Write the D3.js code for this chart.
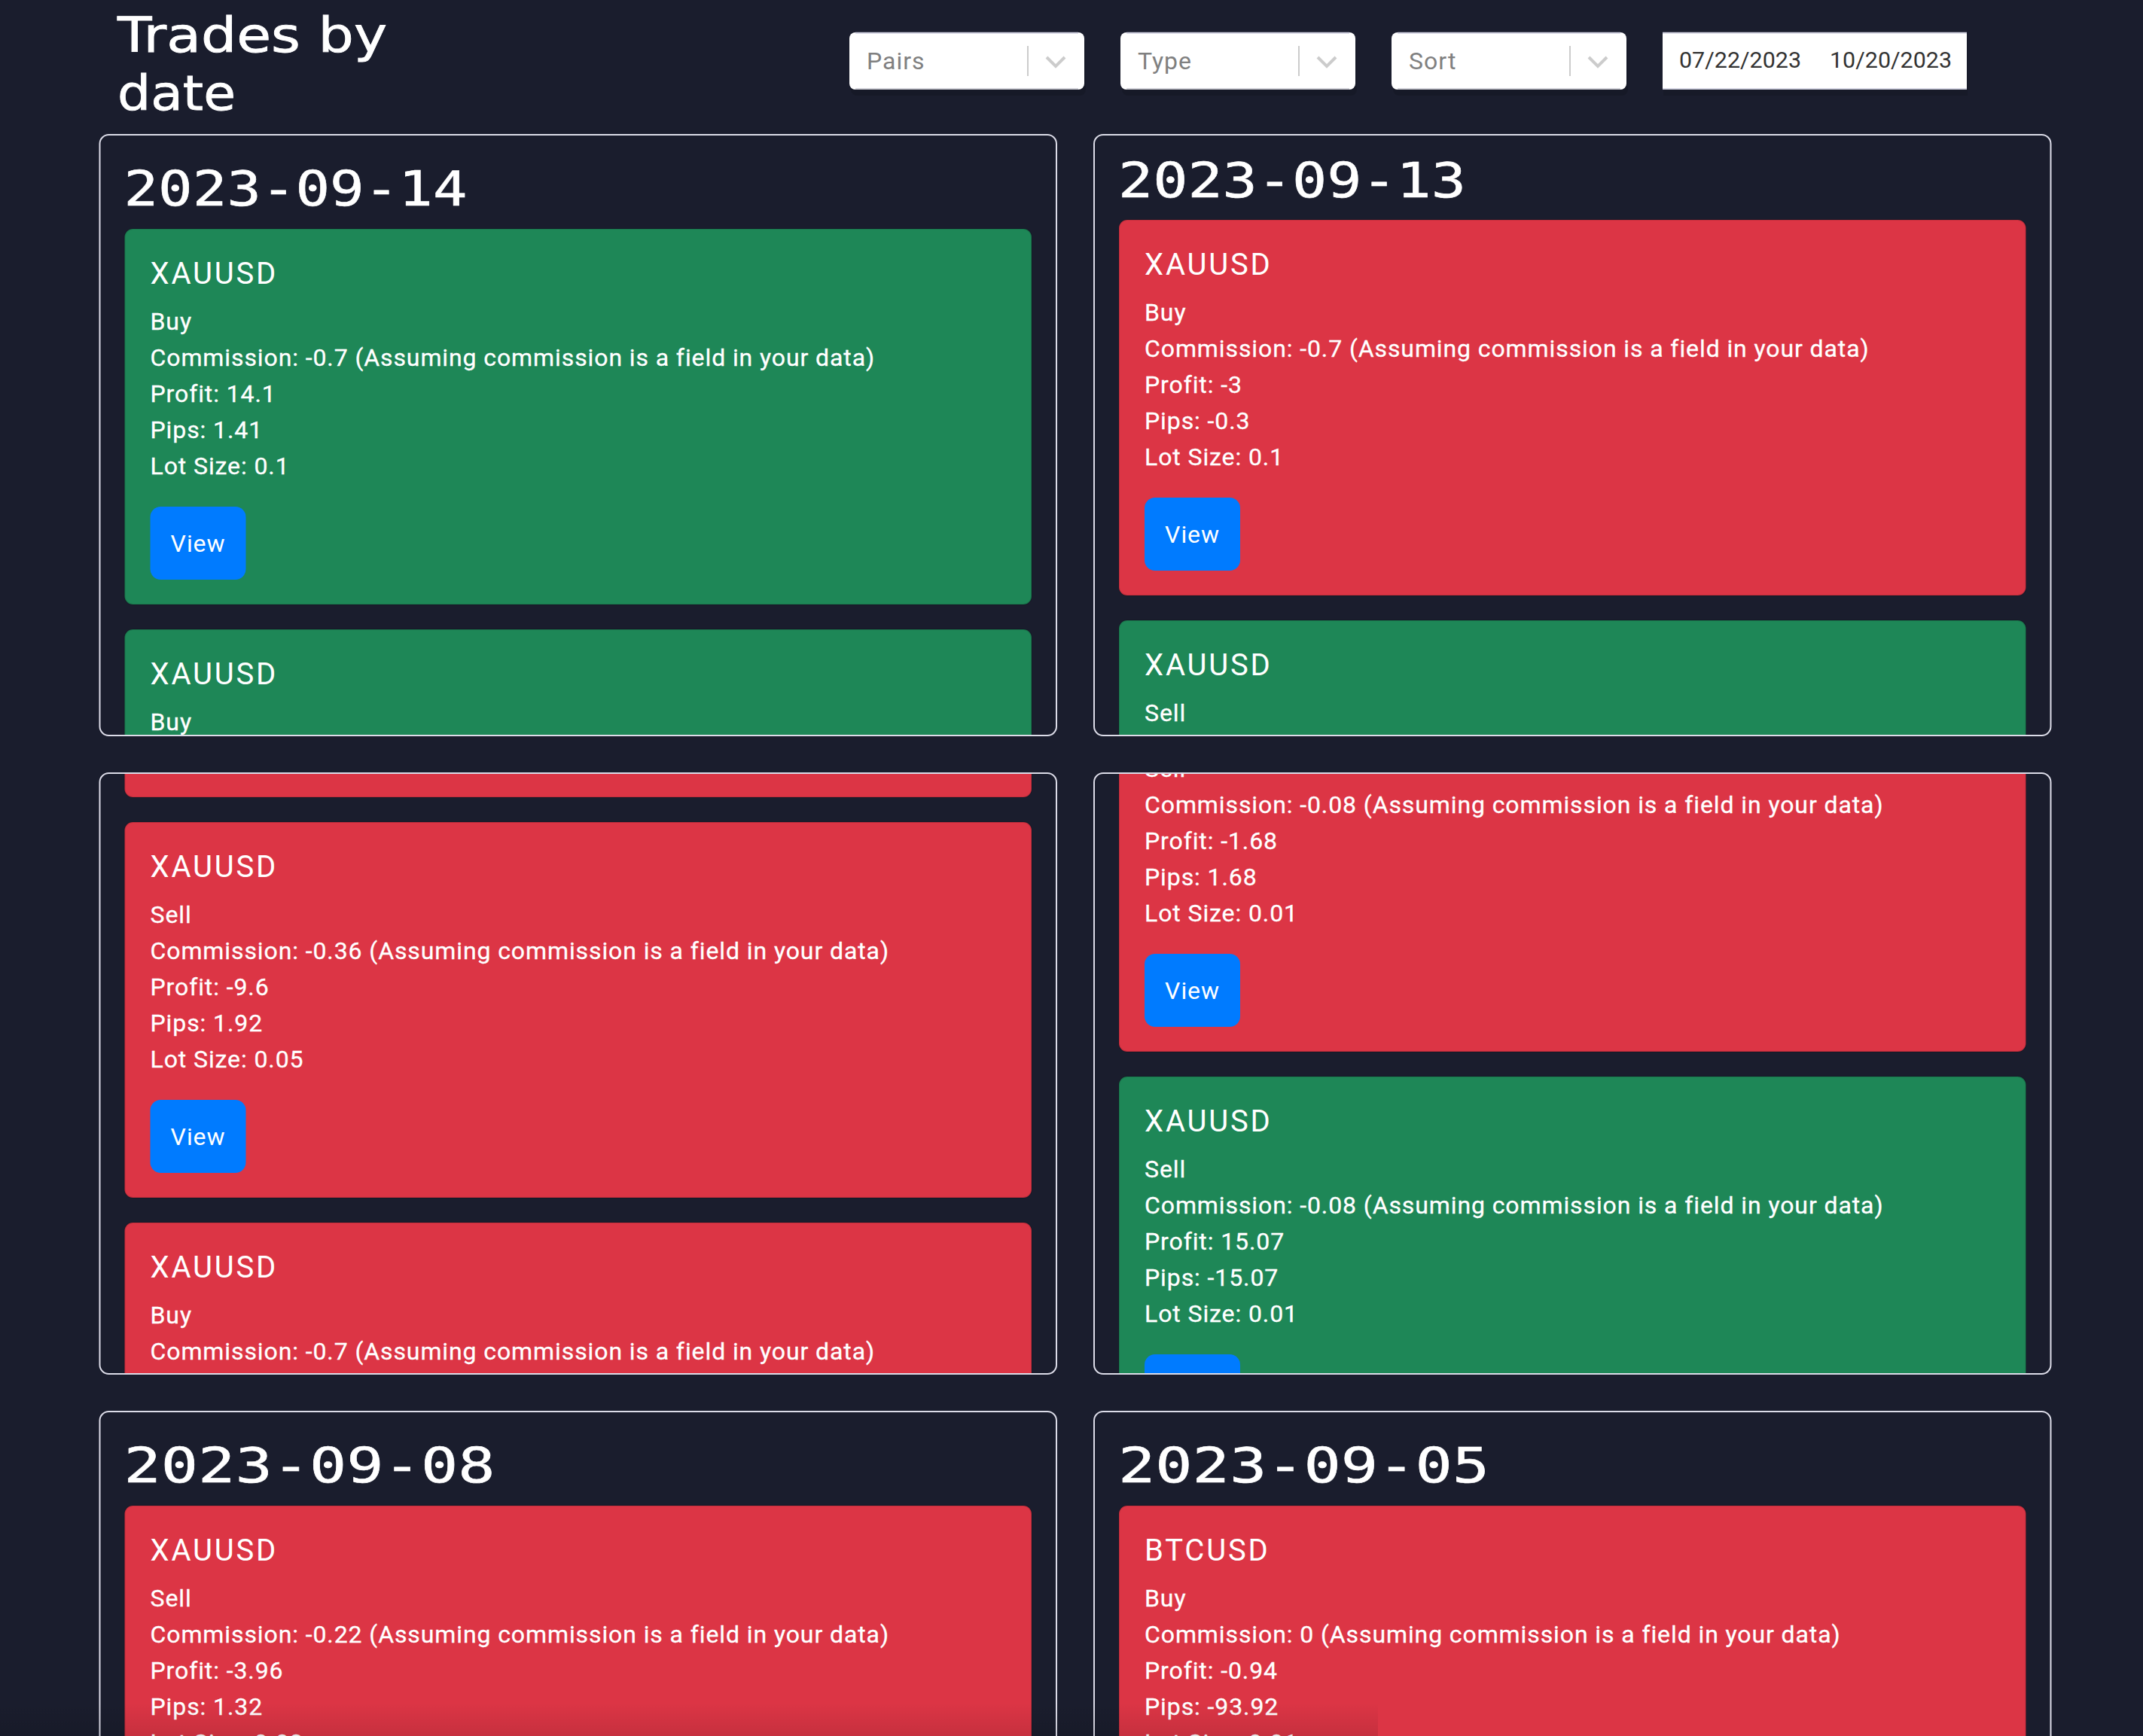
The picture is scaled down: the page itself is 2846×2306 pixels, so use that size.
<!DOCTYPE html>
<html>
<head>
<meta charset="utf-8">
<script src="https://cdn.jsdelivr.net/npm/d3@7"></script>
<style>
html,body{margin:0;padding:0;background:#1a1d2d;overflow:hidden}
svg{display:block}
text{white-space:pre}
</style>
</head>
<body>
<script>
// ---- content ----
const headingLines = ["Trades by", "date"];
const filterLabels = ["Pairs", "Type", "Sort"];
const dateRange = ["07/22/2023", "10/20/2023"];
const panelDates = ["2023-09-14", "2023-09-13", "", "", "2023-09-08", "2023-09-05"];

const tradePanel      = [0, 0, 1, 1, 2, 2, 2, 3, 3, 4, 5];
const tradePair       = ["XAUUSD","XAUUSD","XAUUSD","XAUUSD","XAUUSD","XAUUSD","XAUUSD","XAUUSD","XAUUSD","XAUUSD","BTCUSD"];
const tradeType       = ["Buy","Buy","Buy","Sell","Sell","Sell","Buy","Sell","Sell","Sell","Buy"];
const tradeCommission = [-0.7, null, -0.7, null, null, -0.36, -0.7, -0.08, -0.08, -0.22, 0];
const tradeProfit     = [14.1, 5, -3, 5, -5, -9.6, -5, -1.68, 15.07, -3.96, -0.94];
const tradePips       = [1.41, null, -0.3, null, null, 1.92, null, 1.68, -15.07, 1.32, -93.92];
const tradeLot        = [0.1, null, 0.1, null, null, 0.05, null, 0.01, 0.01, 0.03, 0.01];

// ---- layout ----
const W = 2846, H = 2306;
const bodyFont = "Roboto, sans-serif";
const headFont = "'DejaVu Sans', sans-serif";
const dateFont = "'DejaVu Sans Mono', monospace";

const panelCol = d3.scaleBand().domain([0, 1]).range([132.5, 2723.5]).paddingInner(50 / 1320.5).paddingOuter(0);
const panelRow = d3.scaleBand().domain([0, 1, 2]).range([179, 179 + 848 * 3 - 50]).paddingInner(50 / 848).paddingOuter(0);
const panelH = panelRow.bandwidth();

// first-card top and title geometry per panel (panels are scrolled by different amounts)
const firstCardTop = [304, 292, 560, 898, 2000, 2000];
const titleBaseline = [273, 262, null, null, 1969, 1969];
const titleWidth = [456, 462, null, null, 493, 493];
const cardH = 499, cardGap = 33, cardInsetX = 33, textInsetX = 67;
const lineOffsets = [134, 182, 230, 278, 326];

const colorGreen = "#1e8757", colorRed = "#dc3545";

const trades = tradePair.map((p, i) => ({
  panel: tradePanel[i], pair: p, type: tradeType[i], commission: tradeCommission[i],
  profit: tradeProfit[i], pips: tradePips[i], lot: tradeLot[i]
}));

const svg = d3.select("body").append("svg").attr("width", W).attr("height", H).attr("viewBox", `0 0 ${W} ${H}`);
svg.append("rect").attr("width", W).attr("height", H).attr("fill", "#1a1d2d");

const defs = svg.append("defs");
const fade = defs.append("linearGradient").attr("id", "bottomFade").attr("x1", 0).attr("x2", 0).attr("y1", 0).attr("y2", 1);
fade.append("stop").attr("offset", 0).attr("stop-color", "#000").attr("stop-opacity", 0);
fade.append("stop").attr("offset", 1).attr("stop-color", "#000").attr("stop-opacity", 0.1);

function fitWidth(sel, w) {
  sel.attr("textLength", w).attr("lengthAdjust", "spacingAndGlyphs");
}

// heading
const headingBaselines = [69, 146];
const headingWidths = [358, 157];
svg.selectAll("text.heading").data(headingLines).join("text")
  .attr("class", "heading").attr("x", 156)
  .attr("y", (d, i) => headingBaselines[i])
  .attr("fill", "#fff").attr("stroke", "#fff").attr("stroke-width", 0.8)
  .attr("font-family", headFont).attr("font-size", 64)
  .text(d => d)
  .each(function (d, i) { fitWidth(d3.select(this), headingWidths[i]); });

// filter selects
const selectX = d3.scalePoint().domain(filterLabels).range([1128, 1848]);
const selects = svg.selectAll("g.select").data(filterLabels).join("g")
  .attr("class", "select").attr("transform", d => `translate(${selectX(d)},43)`);
selects.append("rect").attr("x", 2).attr("y", 8).attr("width", 312).attr("height", 76).attr("rx", 8).attr("fill", "#000").attr("opacity", 0.12);
selects.append("rect").attr("width", 312).attr("height", 76).attr("rx", 8).attr("fill", "#fff");
selects.append("path").attr("d", "M8,0.8H304").attr("stroke", "#cfcfe0").attr("stroke-width", 2);
selects.append("path").attr("d", "M8,75H304").attr("stroke", "#cfcfd6").attr("stroke-width", 2);
selects.append("text").attr("x", 23).attr("y", 49).attr("fill", "#808080")
  .attr("font-family", bodyFont).attr("font-size", 32).attr("letter-spacing", 1).text(d => d);
selects.append("line").attr("x1", 237).attr("x2", 237).attr("y1", 18).attr("y2", 58).attr("stroke", "#cccccc").attr("stroke-width", 2);
selects.append("path").attr("d", "M262,33L274,45L286,33").attr("fill", "none").attr("stroke", "#cccccc").attr("stroke-width", 4);

// date range box
const dateBox = svg.append("g").attr("transform", "translate(2208,43)");
dateBox.append("rect").attr("x", 1).attr("y", 8).attr("width", 404).attr("height", 76).attr("fill", "#000").attr("opacity", 0.1);
dateBox.append("rect").attr("width", 404).attr("height", 76).attr("rx", 2).attr("fill", "#fff");
dateBox.append("path").attr("d", "M0,0.8H404").attr("stroke", "#d4d4e2").attr("stroke-width", 2);
dateBox.append("path").attr("d", "M0,75H404").attr("stroke", "#d4d4e2").attr("stroke-width", 2);
const dateX = [22, 222];
dateBox.selectAll("text").data(dateRange).join("text")
  .attr("x", (d, i) => dateX[i]).attr("y", 47).attr("fill", "#333")
  .attr("font-family", bodyFont).attr("font-size", 30)
  .text(d => d)
  .each(function () { fitWidth(d3.select(this), 162); });

// panels
const panelData = panelDates.map((date, i) => ({ date, i, col: i % 2, row: Math.floor(i / 2) }));
const panels = svg.selectAll("g.panel").data(panelData).join("g").attr("class", "panel");

panels.each(function (p) {
  const g = d3.select(this);
  const x0 = panelCol(p.col), y0 = panelRow(p.row), pw = panelCol.bandwidth();
  const clipId = "clip" + p.i;
  defs.append("clipPath").attr("id", clipId).append("rect")
    .attr("x", x0).attr("y", y0).attr("width", pw).attr("height", panelH).attr("rx", 12);

  const inner = g.append("g").attr("clip-path", `url(#${clipId})`);

  if (p.date) {
    inner.append("text").attr("x", x0 + 32).attr("y", titleBaseline[p.i])
      .attr("fill", "#fff").attr("stroke", "#fff").attr("stroke-width", 0.6)
      .attr("font-family", dateFont).attr("font-size", 64)
      .text(p.date).call(fitWidth, titleWidth[p.i]);
  }

  const own = trades.filter(t => t.panel === p.i);
  const cards = inner.selectAll("g.card").data(own).join("g").attr("class", "card")
    .attr("transform", (d, i) => `translate(${x0 + cardInsetX},${firstCardTop[p.i] + i * (cardH + cardGap)})`);

  const cw = pw - 2 * cardInsetX;
  cards.append("rect").attr("width", cw).attr("height", cardH).attr("rx", 11)
    .attr("fill", d => d.profit >= 0 ? colorGreen : colorRed)
    .attr("stroke", "rgba(0,0,0,0.12)").attr("stroke-width", 2);

  const tx = textInsetX - cardInsetX;
  cards.append("text").attr("x", tx).attr("y", 73).attr("fill", "#fff")
    .attr("font-family", bodyFont).attr("font-size", 40).attr("letter-spacing", 2.8).text(d => d.pair);

  cards.each(function (d) {
    const lines = [
      d.type,
      d.commission === null ? null : `Commission: ${d.commission} (Assuming commission is a field in your data)`,
      d.commission === null || d.pips === null ? null : `Profit: ${d.profit}`,
      d.pips === null ? null : `Pips: ${d.pips}`,
      d.lot === null ? null : `Lot Size: ${d.lot}`
    ];
    d3.select(this).selectAll("text.line").data(lines).join("text")
      .attr("class", "line").attr("x", tx).attr("y", (l, i) => lineOffsets[i])
      .attr("fill", "#fff").attr("stroke", "#fff").attr("stroke-width", 0.3)
      .attr("font-family", bodyFont).attr("font-size", 32)
      .attr("letter-spacing", 0.9).text(l => l);
    if (d.lot !== null) {
      const b = d3.select(this).append("g").attr("transform", `translate(${tx},369)`);
      b.append("rect").attr("width", 127).attr("height", 97).attr("rx", 14).attr("fill", "#007bff");
      b.append("text").attr("x", 63.5).attr("y", 60).attr("text-anchor", "middle").attr("fill", "#fff")
        .attr("font-family", bodyFont).attr("font-size", 32).attr("letter-spacing", 0.9).text("View");
    }
  });

  g.append("rect").attr("x", x0).attr("y", y0).attr("width", pw).attr("height", panelH).attr("rx", 12)
    .attr("fill", "none").attr("stroke", "#dcdce8").attr("stroke-width", 2);
});

// soft shadow at the bottom edge of the picture
svg.append("rect").attr("x", 0).attr("y", 2262).attr("width", 1830).attr("height", 44).attr("fill", "url(#bottomFade)");
</script>
</body>
</html>
